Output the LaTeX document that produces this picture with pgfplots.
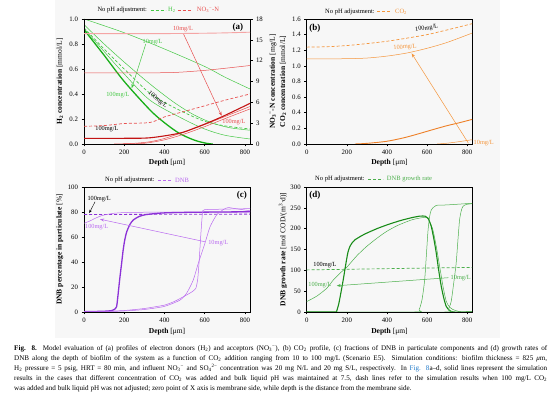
\documentclass[border=0pt]{standalone}
\usepackage{fontspec}
\setmainfont{Liberation Serif}
\usepackage{xcolor}
\usepackage{pgfplots}
\pgfplotsset{compat=1.18}
\usetikzlibrary{arrows.meta}
\definecolor{h2col}{RGB}{70,200,70}
\definecolor{h2thick}{RGB}{25,175,25}
\definecolor{redthin}{RGB}{232,80,80}
\definecolor{redthick}{RGB}{195,20,20}
\definecolor{pinkred}{RGB}{245,165,165}
\definecolor{co2}{RGB}{245,150,60}
\definecolor{co2thick}{RGB}{238,128,40}
\definecolor{dnb}{RGB}{185,105,240}
\definecolor{dnbthick}{RGB}{140,50,215}
\definecolor{dgr}{RGB}{75,175,75}
\definecolor{dgrthick}{RGB}{25,140,25}
\definecolor{linkblue}{RGB}{30,120,200}
\newcommand\af{\fontsize{6.3}{7}\selectfont}
\newcommand\tf{\fontsize{6.5}{7}\selectfont}
\newcommand\pf{\fontsize{9}{10}\selectfont\bfseries}
\pgfplotsset{
  panel/.style={
    scale only axis, width=166pt, height=125pt, anchor=south west,
    xmin=0, xmax=825, xtick={0,200,400,600,800},
    tick align=outside, xtick pos=bottom, ytick pos=left,
    major tick length=2.5pt,
    tick style={black, line width=0.5pt},
    axis line style={line width=0.6pt, black},
    tick label style={font=\fontsize{6.8}{7}\selectfont},
    label style={font=\fontsize{7.5}{8}\selectfont},
    /pgf/number format/assume math mode=true,
    xlabel={\textbf{Depth} [μm]},
    xlabel style={at={(axis description cs:0.5,-0.152)}, anchor=center},
    clip mode=individual,
    every axis plot/.append style={line join=round},
  },
  thin/.style={line width=0.5pt},
  thk/.style={line width=1.3pt},
  dsh/.style={line width=0.7pt, dash pattern=on 3pt off 2pt},
}
\tikzset{ar/.style={line width=0.5pt,-{Stealth[length=4pt,width=3pt]}}}
\begin{document}
\begin{tikzpicture}[x=1pt,y=1pt]
\path[use as bounding box] (0,0) rectangle (554,395);
\fill[black!3] (55,57) rectangle (500,395);

% ---------------- (a) H2 ----------------
\begin{axis}[panel, at={(84pt,251pt)}, ymin=0, ymax=1,
  ytick={0,0.2,0.4,0.6,0.8,1},
  yticklabel style={/pgf/number format/fixed,/pgf/number format/fixed zerofill,/pgf/number format/precision=1},
  ylabel={\textbf{H\textsubscript{2} concentration} [mmol/L]},
  ylabel style={at={(axis description cs:-0.145,0.5)}, anchor=center}]
\addplot[h2col, thin, smooth] coordinates {(0,1.0) (200,0.89) (400,0.76) (600,0.62) (700,0.535) (825,0.44)};
\addplot[h2col, thin, smooth] coordinates {(0,0.955) (100,0.80) (200,0.655) (328,0.48) (450,0.33) (550,0.23) (643,0.165) (725,0.13) (825,0.11)};
\addplot[h2col, dsh, smooth] coordinates {(0,0.93) (100,0.76) (200,0.60) (328,0.405) (450,0.29) (593,0.185) (700,0.145) (825,0.12)};
\addplot[h2col, thin, smooth] coordinates {(0,0.925) (100,0.74) (200,0.56) (328,0.35) (493,0.20) (600,0.12) (700,0.07) (825,0.04)};
\addplot[h2thick, thk, smooth] coordinates {(0,0.915) (100,0.71) (200,0.50) (328,0.272) (400,0.17) (474,0.085) (550,0.03) (610,0.005) (640,0)};
\draw[h2col, ar] (axis cs:307,0.80) -- (axis cs:237,0.446);
\node[h2col, font=\af] at (axis cs:341,0.818) {10mg/L};
\node[h2col, font=\af] at (axis cs:168,0.392) {100mg/L};
\node[black, font=\af, rotate=-40] at (axis cs:366,0.355) {100mg/L};
\node[black, font=\af] at (axis cs:114,0.118) {100mg/L};
\node[redthin, font=\af] at (axis cs:492,0.918) {10mg/L};
\draw[redthin, ar] (axis cs:493,0.886) -- (axis cs:684,0.226);
\node[redthin, font=\af] at (axis cs:745,0.174) {100mg/L};
\node[font=\pf] at (axis cs:765,0.935) {(a)};
\end{axis}
% ---------------- (a) NO3-N ----------------
\begin{axis}[panel, at={(84pt,251pt)}, ymin=0, ymax=18,
  ytick={0,3,6,9,12,15,18}, ytick pos=right, yticklabel pos=right,
  xtick=\empty, xlabel={},
  ylabel={\textbf{NO\textsubscript{3}\textsuperscript{−}-N concentration} [mg/L]},
  ylabel style={at={(axis description cs:1.139,0.5)}, anchor=center}]
\addplot[pinkred, line width=0.9pt, smooth] coordinates {(0,15.9) (400,15.9) (600,15.95) (700,16.0) (825,16.1)};
\addplot[redthin, thin, smooth] coordinates {(0,10.25) (300,10.25) (450,10.3) (600,10.6) (700,10.9) (825,11.3)};
\addplot[redthin, dsh, smooth] coordinates {(0,2.55) (100,2.65) (200,2.95) (328,3.1) (400,3.9) (500,4.7) (600,5.5) (700,6.3) (825,7.2)};
\addplot[redthin, thin, smooth] coordinates {(150,0) (250,0.1) (328,0.33) (400,0.8) (500,1.75) (600,2.8) (700,3.95) (825,5.4)};
\addplot[redthin, thin, smooth] coordinates {(200,0) (300,0.1) (400,0.6) (500,1.45) (600,2.5) (700,3.65) (825,5.05)};
\addplot[redthick, line width=1.1pt, smooth] coordinates {(0,0.8) (200,0.82) (330,0.9) (474,1.55) (550,2.3) (620,3.1) (684,3.9) (750,4.8) (825,5.85)};
\end{axis}

% ---------------- (b) CO2 ----------------
\begin{axis}[panel, at={(306.7pt,251pt)}, width=165.5pt, ymin=0, ymax=1.6,
  ytick={0,0.2,0.4,0.6,0.8,1,1.2,1.4,1.6},
  yticklabel style={/pgf/number format/fixed,/pgf/number format/fixed zerofill,/pgf/number format/precision=1},
  ylabel={\textbf{CO\textsubscript{2} concentration} [mmol/L]},
  ylabel style={at={(axis description cs:-0.143,0.5)}, anchor=center}]
\addplot[co2, dsh, smooth] coordinates {(0,1.24) (100,1.245) (200,1.26) (300,1.285) (400,1.315) (500,1.355) (600,1.40) (700,1.46) (825,1.54)};
\addplot[co2, thin, smooth] coordinates {(0,1.09) (100,1.09) (200,1.092) (300,1.10) (400,1.125) (500,1.165) (600,1.225) (700,1.30) (825,1.42)};
\addplot[co2thick, line width=0.9pt, smooth] coordinates {(240,0) (300,0.008) (400,0.035) (485,0.08) (550,0.125) (617,0.175) (700,0.235) (755,0.268) (825,0.315)};
\addplot[co2, thin, smooth] coordinates {(650,0) (700,0.01) (760,0.03) (825,0.055)};
\node[font=\pf] at (axis cs:41,1.48) {(b)};
\node[black, font=\af, rotate=8] at (axis cs:598,1.48) {100mg/L};
\node[co2, font=\af, rotate=5] at (axis cs:490,1.238) {100mg/L};
\draw[co2, ar] (axis cs:806,0.01) -- (axis cs:523,1.16);
\node[co2, font=\af, anchor=west, inner sep=0.5pt] at (axis cs:829,0.01) {10mg/L};
\end{axis}

% ---------------- (c) DNB percentage ----------------
\begin{axis}[panel, at={(84pt,83pt)}, ymin=0, ymax=100,
  ytick={0,20,40,60,80,100},
  ylabel={\textbf{DNB percentage in particulate} [\%]},
  ylabel style={at={(axis description cs:-0.145,0.5)}, anchor=center},
  xlabel style={at={(axis description cs:0.5,-0.158)}, anchor=center}]
\addplot[dnbthick, dsh, line width=0.8pt] coordinates {(0,78) (825,78.3)};
\addplot[dnb, thin, smooth] coordinates {(0,71) (25,72.5) (50,74.5) (75,76.3) (100,77.6) (150,79) (200,79.5) (300,79.8) (825,80)};
\addplot[dnbthick, thk, smooth, tension=0.4] coordinates {(0,0.3) (100,0.6) (140,1.2) (150,2) (162,4.3) (170,15) (178,27) (187,39) (195,50) (203,58) (212,64) (228,70) (245,73.6) (275,76.5) (311,78) (400,79.3) (550,79.8) (825,80.2)};
\addplot[dnb, thin, smooth, tension=0.3] coordinates {(0,0.2) (100,0.5) (200,1.2) (300,2.8) (400,5.5) (450,8.5) (510,13.6) (540,16.5) (556,19) (565,26) (572,40) (579,58) (585,72) (590,81) (600,81.9) (700,82.3) (825,82.7)};
\addplot[dnb, thin, smooth, tension=0.4] coordinates {(0,0) (100,0.3) (200,0.8) (300,2) (400,4.5) (477,9.5) (510,15) (543,25.6) (568,39) (601,55) (626,68) (659,77.6) (693,82) (717,83.5) (760,82.5) (825,81)};
\node[font=\pf] at (axis cs:784,93.6) {(c)};
\node[black, font=\af] at (axis cs:75,90.4) {100mg/L};
\draw[black, line width=0.4pt, -{Stealth[length=3pt,width=2.5pt]}] (axis cs:55,88.2) -- (axis cs:26,79.2);
\node[dnb, font=\af] at (axis cs:63,68.2) {100mg/L};
\draw[dnb, ar] (axis cs:601,56.2) -- (axis cs:80,74.2);
\node[dnb, font=\af, anchor=west, inner sep=1pt] at (axis cs:612,55) {10mg/L};
\end{axis}

% ---------------- (d) DNB growth rate ----------------
\begin{axis}[panel, at={(306.7pt,83pt)}, width=165.5pt, ymin=0, ymax=300,
  ytick={0,50,100,150,200,250,300},
  ylabel={\textbf{DNB growth rate} [mol COD/(m\textsuperscript{3}·d)]},
  ylabel style={at={(axis description cs:-0.143,0.5)}, anchor=center},
  xlabel style={at={(axis description cs:0.5,-0.158)}, anchor=center}]
\addplot[dgr, dsh] coordinates {(0,101) (200,102.5) (400,104) (600,105.5) (825,107)};
\addplot[dgr, thin, smooth, tension=0.4] coordinates {(0,25) (50,38) (100,57) (133,77) (170,95) (199,107) (250,135) (298,157) (350,177) (397,193) (450,207) (500,217) (530,222) (570,226) (596,227) (610,220) (629,197) (645,160) (663,109) (680,60) (696,25) (712,12) (729,6) (760,1) (790,0) (825,0)};
\addplot[dgrthick, line width=1.1pt, smooth, tension=0.4] coordinates {(0,0) (140,0) (149,2) (160,20) (170,45) (182,77) (195,115) (205,142) (215,157) (228,167) (240,173) (270,182) (298,189) (350,200) (400,209) (464,219) (520,226) (563,230) (590,230) (605,225) (621,205) (634,175) (646,141) (658,100) (671,61) (684,32) (696,13) (712,4) (729,0) (825,0)};
\addplot[dgr, thin, smooth, tension=0.4] coordinates {(0,0) (540,0) (560,5) (575,30) (588,77) (597,140) (605,197) (613,230) (621,245) (634,252) (646,256) (700,257) (825,261)};
\addplot[dgr, thin, smooth, tension=0.4] coordinates {(0,0) (690,0) (705,5) (720,25) (733,70) (745,117) (755,180) (762,221) (770,242) (778,253) (795,258) (825,260)};
\node[font=\pf] at (axis cs:41,281) {(d)};
\node[black, font=\af] at (axis cs:91,113) {100mg/L};
\node[dgr, font=\af] at (axis cs:66,65) {100mg/L};
\draw[dgr, ar] (axis cs:706,82.3) -- (axis cs:150,63);
\node[dgr, font=\af, anchor=west, inner sep=1pt] at (axis cs:712,82.3) {10mg/L};
\end{axis}

% ---------------- panel headers ----------------
\node[anchor=west, font=\tf, inner sep=0] at (97.3,385) {No pH adjustment:};
\draw[h2col, line width=0.6pt, dash pattern=on 3pt off 2pt] (150.7,385) -- (165.7,385);
\node[anchor=west, font=\tf, inner sep=0, h2col] at (168,385) {H\textsubscript{2}};
\draw[redthin, line width=0.6pt, dash pattern=on 3pt off 2pt] (177.7,385) -- (192.3,385);
\node[anchor=west, font=\tf, inner sep=0, redthin] at (196.7,385) {NO\textsubscript{3}\textsuperscript{−}-N};

\node[anchor=west, font=\tf, inner sep=0] at (325,383.3) {No pH adjustment:};
\draw[co2, line width=0.6pt, dash pattern=on 3pt off 2pt] (377.3,383.3) -- (391.7,383.3);
\node[anchor=west, font=\tf, inner sep=0, co2] at (395,383.3) {CO\textsubscript{2}};

\node[anchor=west, font=\tf, inner sep=0] at (105,215) {No pH adjustment:};
\draw[dnb, line width=0.6pt, dash pattern=on 3pt off 2pt] (158.3,215) -- (171.7,215);
\node[anchor=west, font=\tf, inner sep=0, dnb] at (175,215) {DNB};

\node[anchor=west, font=\tf, inner sep=0] at (315,215.7) {No pH adjustment:};
\draw[dgr, line width=0.6pt, dash pattern=on 3pt off 2pt] (368.3,215.7) -- (383.3,215.7);
\node[anchor=west, font=\tf, inner sep=0, dgr] at (386.7,215.7) {DNB growth rate};

% ---------------- caption ----------------
\node[anchor=north west, inner sep=0, text width=533pt, align=justify, font=\fontsize{7.1}{10}\selectfont] at (14,49.5) {%
\textbf{Fig. 8.}\ \ Model evaluation of (a) profiles of electron donors (H\textsubscript{2}) and acceptors (NO\textsubscript{3}\textsuperscript{−}), (b) CO\textsubscript{2} profile, (c) fractions of DNB in particulate components and (d) growth rates of\linebreak
DNB along the depth of biofilm of the system as a function of CO\textsubscript{2} addition ranging from 10 to 100 mg/L (Scenario E5). Simulation conditions: biofilm thickness = 825 \textit{μ}m,\linebreak
H\textsubscript{2} pressure = 5 psig, HRT = 80 min, and influent NO\textsubscript{3}\textsuperscript{−} and SO\textsubscript{4}\textsuperscript{2−} concentration was 20 mg N/L and 20 mg S/L, respectively. In \textcolor{linkblue}{Fig. 8}a–d, solid lines represent the simulation\linebreak
results in the cases that different concentration of CO\textsubscript{2} was added and bulk liquid pH was maintained at 7.5, dash lines refer to the simulation results when 100 mg/L CO\textsubscript{2}\linebreak
was added and bulk liquid pH was not adjusted; zero point of X axis is membrane side, while depth is the distance from the membrane side.};
\end{tikzpicture}
\end{document}
